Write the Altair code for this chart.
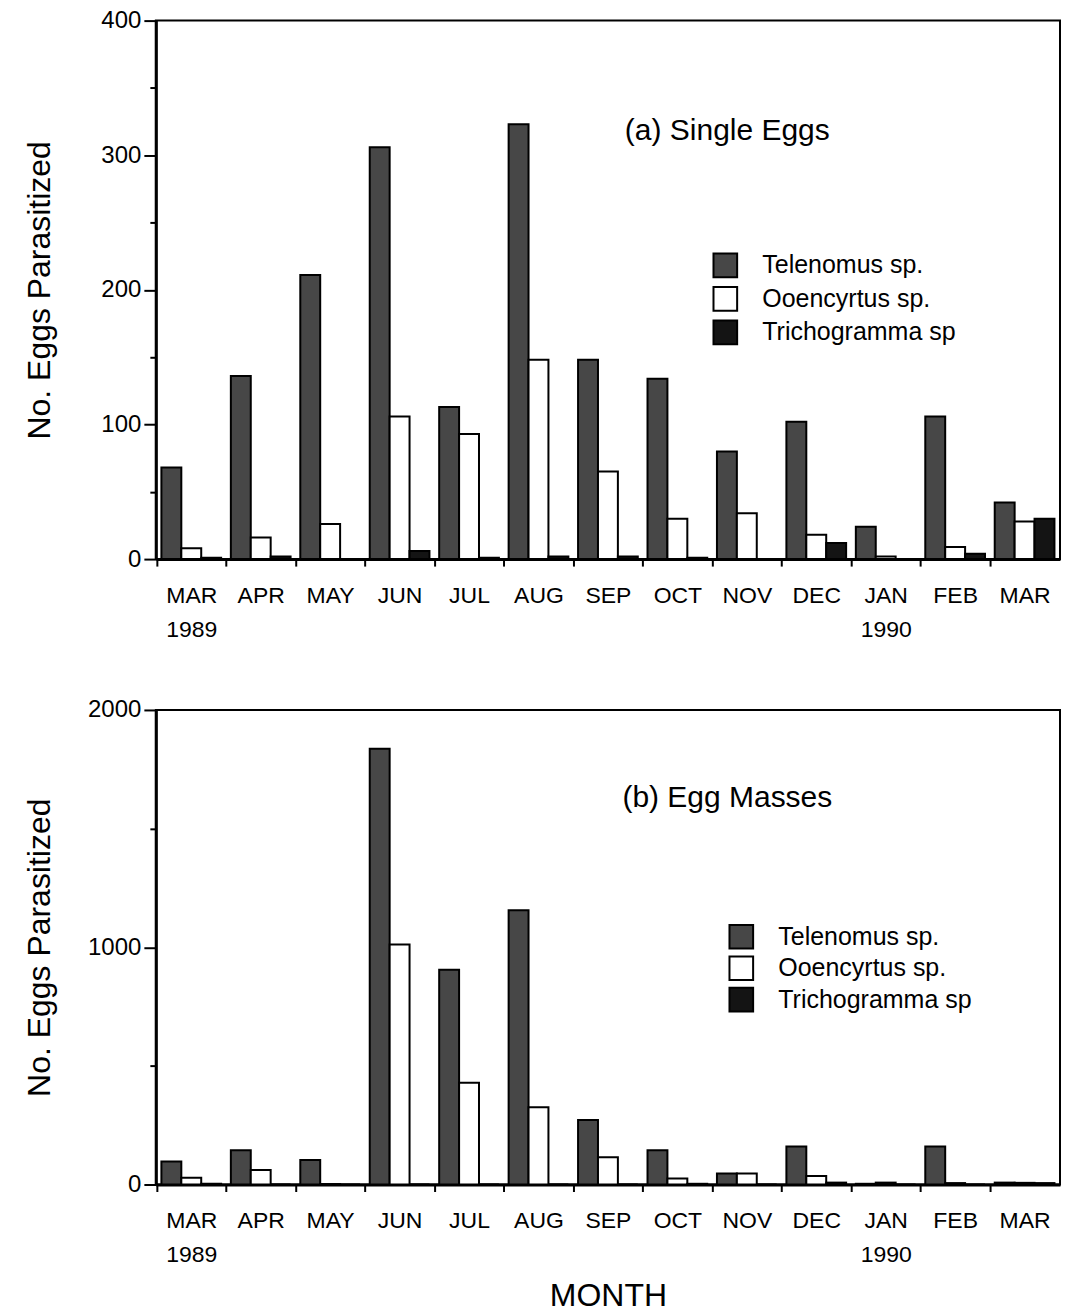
import altair as alt
import pandas as pd

FONT = "Liberation Sans"

months = ["MAR 1989", "APR", "MAY", "JUN", "JUL", "AUG", "SEP",
          "OCT", "NOV", "DEC", "JAN 1990", "FEB", "MAR"]
species = ["Telenomus sp.", "Ooencyrtus sp.", "Trichogramma sp"]

# (a) Single eggs
single_telenomus = [68, 136, 211, 306, 113, 323, 148, 134, 80, 102, 24, 106, 42]
single_ooencyrtus = [8, 16, 26, 106, 93, 148, 65, 30, 34, 18, 2, 9, 28]
single_trichogramma = [1, 2, 0, 6, 1, 2, 2, 1, 0, 12, 0, 4, 30]

# (b) Egg masses
mass_telenomus = [97, 144, 103, 1837, 905, 1156, 272, 144, 46, 160, 3, 160, 8]
mass_ooencyrtus = [28, 61, 2, 1011, 429, 326, 115, 25, 46, 36, 8, 6, 7]
mass_trichogramma = [3, 0, 0, 0, 0, 0, 0, 3, 0, 8, 0, 0, 6]

fills = ["#474747", "#ffffff", "#141414"]


def make_df(tel, ooe, tri):
    rows = []
    for i, m in enumerate(months):
        for s, v in zip(species, (tel[i], ooe[i], tri[i])):
            rows.append({"month": m, "species": s, "value": v})
    return pd.DataFrame(rows)


def panel(df, ymax, major, height, label, label_y, legend_x, legend_y, row_pad, xtitle):
    xaxis_kw = dict(
        bandPosition=0, tickOffset=-4.85, labelOffset=4.85,
        tickSize=7, tickWidth=2, tickColor="black",
        labelPadding=18, labelExpr="split(datum.value, ' ')",
        labelLineHeight=34, labelAngle=0, labelFontSize=23,
        labelFont=FONT, labelColor="black",
        domainWidth=3, domainColor="black",
        title=xtitle, titleFontSize=32, titleFont=FONT,
        titleFontWeight="normal", titleColor="black",
    )
    if xtitle:
        xaxis_kw.update(titleY=96, titleBaseline="top")
    x = alt.X("month:N", sort=months,
              scale=alt.Scale(paddingInner=0.14, paddingOuter=0.08),
              axis=alt.Axis(**xaxis_kw))
    yvals = [i * major / 2 for i in range(0, int(ymax / (major / 2)) + 1)]
    y = alt.Y("value:Q",
              scale=alt.Scale(domain=[0, ymax], nice=False),
              axis=alt.Axis(
                  values=yvals, format="d",
                  tickSize={"condition": {"test": f"datum.value % {major} != 0", "value": 6}, "value": 12},
                  tickWidth=2, tickColor="black",
                  labelExpr=f"datum.value % {major} == 0 ? datum.label : ''",
                  labelFontSize=24, labelFont=FONT, labelColor="black",
                  labelPadding=3, grid=False,
                  domainWidth=3, domainColor="black",
                  title="No. Eggs Parasitized", titleFontSize=32, titleFont=FONT,
                  titleFontWeight="normal", titleColor="black", titleX=-99,
              ))
    bars = alt.Chart(df).mark_bar(stroke="black", strokeWidth=2, opacity=1).encode(
        x=x,
        xOffset=alt.XOffset("species:N", sort=species, scale=alt.Scale(paddingInner=0, paddingOuter=0)),
        y=y,
        color=alt.Color("species:N", sort=species,
                        scale=alt.Scale(domain=species, range=fills),
                        legend=alt.Legend(
                            orient="none", legendX=legend_x, legendY=legend_y,
                            title=None, symbolType="square", symbolSize=560,
                            symbolStrokeColor="black", symbolStrokeWidth=2,
                            symbolOpacity=1, labelFontSize=25, labelFont=FONT,
                            labelColor="black", labelOffset=24, rowPadding=row_pad,
                            padding=0, labelLimit=0)),
    )
    txt = alt.Chart(pd.DataFrame({"t": [label]})).mark_text(
        font=FONT, fontSize=30, color="black", align="center", baseline="middle"
    ).encode(x=alt.value(572), y=alt.value(label_y), text="t:N")
    return alt.layer(bars, txt).properties(width=905, height=height)


top = panel(make_df(single_telenomus, single_ooencyrtus, single_trichogramma),
            400, 100, 539, "(a) Single Eggs", 111, 557, 232, 1.5, "")
bottom = panel(make_df(mass_telenomus, mass_ooencyrtus, mass_trichogramma),
               2000, 1000, 475, "(b) Egg Masses", 88, 573, 214, -0.5, "MONTH")

chart = alt.vconcat(top, bottom, spacing=151, bounds="flush").resolve_scale(
    color="independent").resolve_legend(color="independent").properties(
    padding={"left": 22, "top": 7, "right": 4, "bottom": 4}
).configure_view(stroke="black", strokeWidth=2, strokeOpacity=1)

chart.save("out.html", embed_options={"renderer": "svg", "actions": False})
